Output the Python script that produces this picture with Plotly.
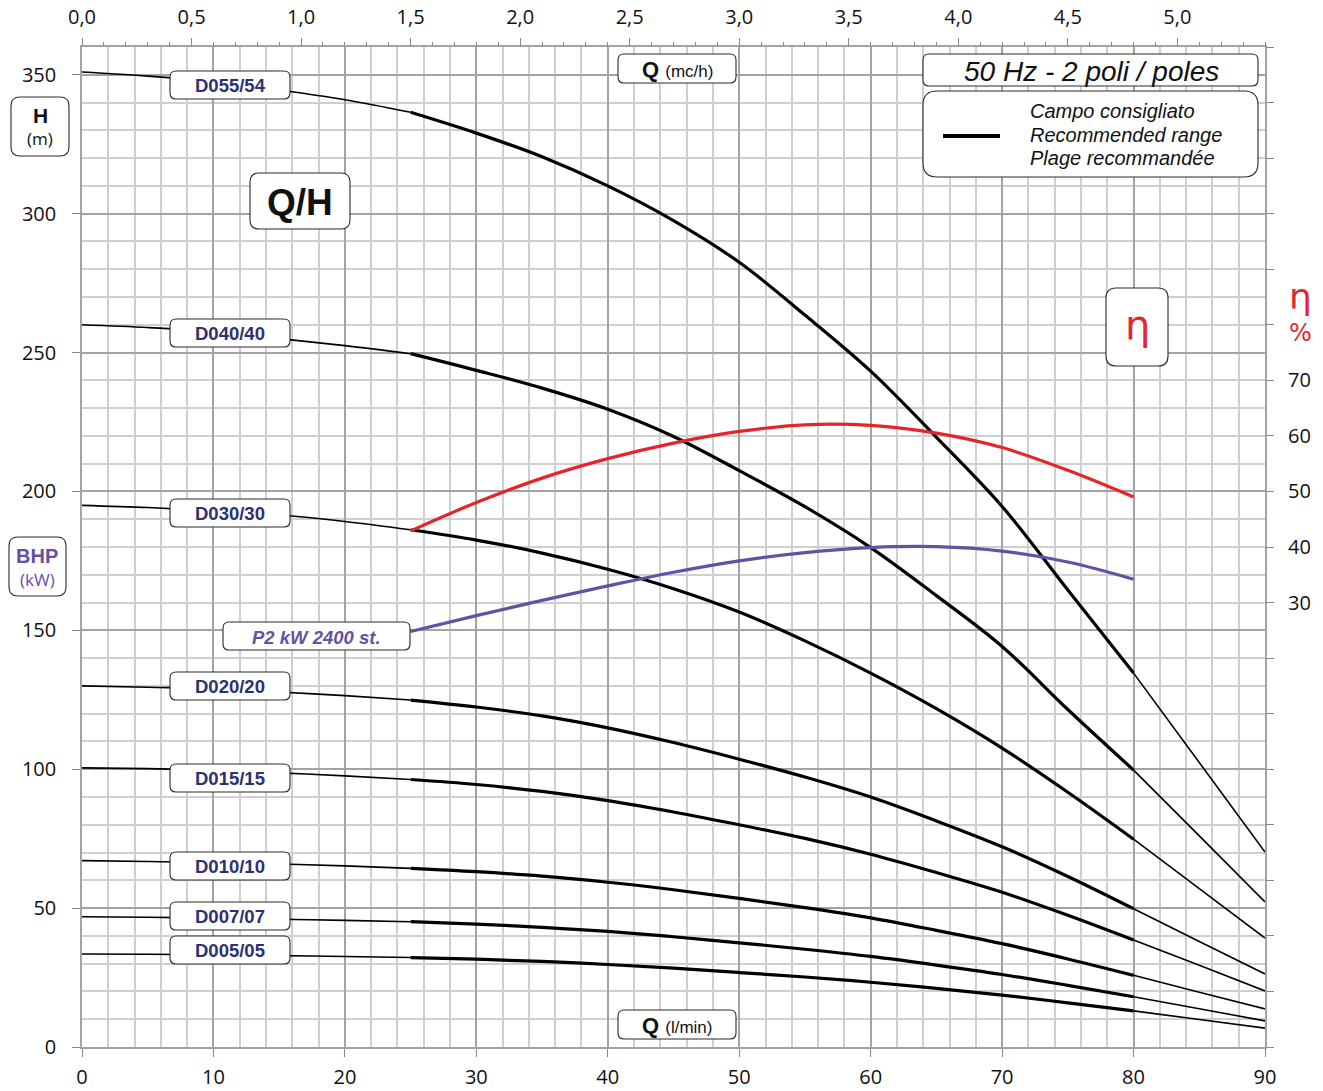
import plotly.graph_objects as go

# ---------------- data ----------------
Q = [0, 5, 10, 15, 20, 25, 30, 35, 40, 45, 50, 55, 60, 65, 70, 75, 80, 85, 90]  # l/min

H_D055 = [351, 349.5, 347.5, 344.5, 341, 336.5, 329, 320.5, 310, 297.5, 282.5, 263.5, 243.3, 219.5, 194.6, 164.5, 134.6, 102.4, 70.2]
H_D040 = [260, 259, 257.5, 255, 252.5, 249.6, 243.6, 237.2, 229.6, 219.8, 207.5, 194.5, 179.8, 162.5, 144.2, 121.5, 99.7, 76, 52.2]
H_D030 = [195, 194.2, 193, 191.5, 189.2, 186.2, 182.5, 177.8, 172, 165, 156.6, 146.2, 134.6, 121.8, 107.6, 91.7, 74.8, 57, 39.2]
H_D020 = [130, 129.5, 129, 127.8, 126.5, 124.9, 122.4, 119.2, 114.9, 109.6, 103.6, 97.2, 90, 81.4, 72.1, 61.4, 49.8, 38, 26.3]
H_D015 = [100.5, 100.2, 99.6, 98.7, 97.6, 96.3, 94.5, 92, 88.7, 84.6, 80, 75.1, 69.4, 62.8, 55.7, 47.4, 38.5, 29.4, 20.2]
H_D010 = [67.1, 66.8, 66.3, 65.9, 65.2, 64.3, 63.1, 61.5, 59.3, 56.6, 53.5, 50.2, 46.5, 42, 37.2, 31.7, 25.8, 19.7, 13.7]
H_D007 = [46.9, 46.7, 46.4, 46.0, 45.6, 45.1, 44.2, 43.1, 41.6, 39.7, 37.5, 35.2, 32.6, 29.5, 26.1, 22.2, 18.1, 13.8, 9.4]
H_D005 = [33.5, 33.4, 33.2, 32.9, 32.6, 32.2, 31.6, 30.8, 29.7, 28.4, 26.8, 25.2, 23.3, 21.1, 18.7, 15.9, 13, 9.9, 6.8]

model_names = ["D055/54", "D040/40", "D030/30", "D020/20", "D015/15", "D010/10", "D007/07", "D005/05"]
model_heads = [H_D055, H_D040, H_D030, H_D020, H_D015, H_D010, H_D007, H_D005]

Q_rec = [25, 30, 35, 40, 45, 50, 55, 60, 65, 70, 75, 80]
eta = [42.9, 48.0, 52.4, 55.9, 58.7, 60.8, 62.0, 61.9, 60.5, 57.9, 53.8, 49.0]          # %
p2 = [149.6, 155.3, 160.8, 166.0, 170.9, 175.0, 178.0, 179.8, 180.1, 178.5, 174.6, 168.4]  # plotted on H scale

REC_MIN, REC_MAX = 25, 80
mch_ticks = [0, 0.5, 1.0, 1.5, 2.0, 2.5, 3.0, 3.5, 4.0, 4.5, 5.0]
eta_labels = [30, 40, 50, 60, 70]

# ---------------- layout geometry (pixels) ----------------
W, HGT = 1323, 1091
PL, PR, PT, PB = 82, 1265, 47, 1047

def paper(x, y):
    return (x - PL) / (PR - PL), (PB - y) / (PB - PT)

shapes = []
annotations = []

def rbox(x0, y0, x1, y1, r=7, lw=1.1):
    def P(x, y):
        a, b = paper(x, y)
        return f"{a:.5f},{b:.5f}"
    path = (f"M {P(x0 + r, y0)} L {P(x1 - r, y0)} Q {P(x1, y0)} {P(x1, y0 + r)} "
            f"L {P(x1, y1 - r)} Q {P(x1, y1)} {P(x1 - r, y1)} L {P(x0 + r, y1)} "
            f"Q {P(x0, y1)} {P(x0, y1 - r)} L {P(x0, y0 + r)} Q {P(x0, y0)} {P(x0 + r, y0)} Z")
    shapes.append(dict(type="path", path=path, xref="paper", yref="paper",
                       fillcolor="white", line=dict(color="#2a2a2a", width=lw), layer="above"))

def text(x, y, s, size, color="#111", family="Liberation Sans, Arial, sans-serif", xanchor="center"):
    a, b = paper(x, y)
    annotations.append(dict(x=a, y=b, xref="paper", yref="paper", text=s, showarrow=False,
                            xanchor=xanchor, yanchor="middle",
                            font=dict(size=size, color=color, family=family)))

fig = go.Figure()

# pump curves: thin outside recommended range, thick inside
for name, hs in zip(model_names, model_heads):
    segs = [
        ([q for q in Q if q <= REC_MIN], [h for q, h in zip(Q, hs) if q <= REC_MIN], 1.6),
        ([q for q in Q if REC_MIN <= q <= REC_MAX], [h for q, h in zip(Q, hs) if REC_MIN <= q <= REC_MAX], 3.2),
        ([q for q in Q if q >= REC_MAX], [h for q, h in zip(Q, hs) if q >= REC_MAX], 1.6),
    ]
    for xs, ys, w in segs:
        fig.add_trace(go.Scatter(x=xs, y=ys, mode="lines", line=dict(color="black", width=w, shape="spline", smoothing=1.0),
                                 showlegend=False, hoverinfo="skip", name=name))

# P2 power curve
fig.add_trace(go.Scatter(x=Q_rec, y=p2, mode="lines", line=dict(color="#6650a3", width=3.2, shape="spline", smoothing=1.0),
                         showlegend=False, hoverinfo="skip"))
# efficiency curve on eta axis
fig.add_trace(go.Scatter(x=Q_rec, y=eta, mode="lines", yaxis="y2", line=dict(color="#e4262b", width=3.2, shape="spline", smoothing=1.0),
                         showlegend=False, hoverinfo="skip"))
# invisible trace to activate the m3/h axis
fig.add_trace(go.Scatter(x=[q * 0.06 for q in Q], y=H_D005, xaxis="x2", mode="lines",
                         line=dict(width=0), opacity=0, showlegend=False, hoverinfo="skip"))

tickfont = dict(family="Open Sans, DejaVu Sans, sans-serif", size=20, color="#111")

fig.update_layout(
    width=W, height=HGT, autosize=False,
    margin=dict(l=PL, r=W - PR, t=PT, b=HGT - PB, pad=0, autoexpand=False),
    paper_bgcolor="white", plot_bgcolor="white",
    separators=", ",
    xaxis=dict(range=[0, 90], dtick=10, tick0=0, showgrid=True, gridcolor="#a3a3a3", gridwidth=1.5,
               minor=dict(dtick=2, showgrid=True, gridcolor="#cfcfcf", gridwidth=1.5),
               ticks="outside", ticklen=8, tickcolor="#888", tickwidth=1.2,
               showline=True, linecolor="#a3a3a3", linewidth=1.5, mirror=True,
               zeroline=False, tickfont=tickfont, ticklabelstandoff=3, automargin=False),
    yaxis=dict(range=[0, 360], dtick=50, tick0=0, showgrid=True, gridcolor="#a3a3a3", gridwidth=1.5,
               minor=dict(dtick=10, showgrid=True, gridcolor="#cfcfcf", gridwidth=1.5),
               ticks="outside", ticklen=8, tickcolor="#888", tickwidth=1.2,
               showline=True, linecolor="#a3a3a3", linewidth=1.5, mirror=True,
               zeroline=False, tickfont=tickfont, ticklabelstandoff=12, automargin=False),
    xaxis2=dict(range=[0, 5.4], overlaying="x", side="top", anchor="y",
                tickvals=mch_ticks, tickformat=".1f", showgrid=False, zeroline=False,
                ticks="outside", ticklen=8, tickcolor="#888", tickwidth=1.2,
                minor=dict(dtick=0.1, tick0=0, ticks="outside", ticklen=4, tickcolor="#888", tickwidth=1.2),
                tickfont=tickfont, ticklabelstandoff=6, automargin=False),
    yaxis2=dict(range=[-50, 130], overlaying="y", side="right", anchor="x",
                tickvals=list(range(-50, 131, 10)),
                ticktext=[str(v) if v in eta_labels else "" for v in range(-50, 131, 10)],
                showgrid=False, zeroline=False, ticks="outside", ticklen=8, tickcolor="#888", tickwidth=1.2,
                tickfont=tickfont, ticklabelstandoff=10, automargin=False),
)

# ---------------- boxes and labels ----------------
navy = "#2b3172"
label_boxes_y = [(71, 99), (319, 347), (499, 527), (672, 700), (764, 792), (852, 880), (902, 930), (936, 964)]
for name, (y0, y1) in zip(model_names, label_boxes_y):
    rbox(170, y0, 290, y1, r=6)
    text(230, (y0 + y1) / 2, f"<b>{name}</b>", 18.5, navy)

# H (m)
rbox(11, 97, 69, 156, r=9)
text(40, 116, "<b>H</b>", 21, "#111")
text(40, 139, "(m)", 17, "#111", family="Open Sans, DejaVu Sans, sans-serif")

# BHP (kW)
purple = "#6650a3"
rbox(9, 537, 66, 596, r=9)
text(37, 556, "<b>BHP</b>", 20, purple)
text(37, 579, "(kW)", 17, purple, family="Open Sans, DejaVu Sans, sans-serif")

# Q/H
rbox(250, 173, 350, 229, r=9)
text(300, 202, "<b>Q/H</b>", 37, "#111")

# Q (mc/h)
rbox(618, 54, 736, 83, r=6)
text(677, 69, "<b>Q</b> <span style='font-size:17px'>(mc/h)</span>", 22, "#111")

# Q (l/min)
rbox(618, 1010, 736, 1039, r=6)
text(677, 1025, "<b>Q</b> <span style='font-size:17px'>(l/min)</span>", 22, "#111")

# 50 Hz box
rbox(923, 54, 1258, 86, r=6)
text(1091, 71, "<i>50 Hz - 2 poli / poles</i>", 28, "#111")

# legend box
rbox(923, 91, 1258, 177, r=14)
lx0, ly = paper(943, 136)
lx1, _ = paper(1000, 136)
shapes.append(dict(type="line", xref="paper", yref="paper", x0=lx0, x1=lx1, y0=ly, y1=ly,
                   line=dict(color="black", width=4), layer="above"))
text(1028, 111, "<i>Campo consigliato</i>", 20, "#111", xanchor="left")
text(1028, 135, "<i>Recommended range</i>", 20, "#111", xanchor="left")
text(1028, 158, "<i>Plage recommandée</i>", 20, "#111", xanchor="left")

# P2 label
rbox(223, 622, 410, 650, r=6)
text(316, 637, "<b><i>P2 kW 2400 st.</i></b>", 18.5, purple)

# eta box and right axis title
red = "#e4262b"
rbox(1106, 288, 1168, 366, r=10)
text(1137, 325, "η", 40, red, family="DejaVu Sans, sans-serif")
text(1300, 296, "η", 36, red, family="DejaVu Sans, sans-serif")
text(1300, 333, "%", 24, red, family="DejaVu Sans, sans-serif")

fig.update_layout(shapes=shapes, annotations=annotations)

fig.write_html("out.html", config={"displayModeBar": False},
               post_script="document.body.style.margin='0px';")
